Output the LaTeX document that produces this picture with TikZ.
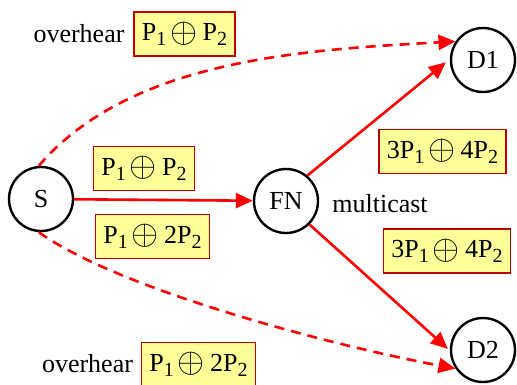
\documentclass[tikz,border=0pt]{standalone}
\usepackage{fontspec}
\setmainfont{Liberation Serif}
\usetikzlibrary{arrows.meta}
\definecolor{boxfill}{HTML}{FFFF99}
\definecolor{boxline}{HTML}{C00000}
\newcommand{\idx}[1]{\raisebox{-5pt}{\fontsize{20}{20}\selectfont #1}}
\newcommand{\xor}{\hspace{4pt}\raisebox{-1.5pt}{\scalebox{1.4}{$\oplus$}}\hspace{5pt}}
\begin{document}
\begin{tikzpicture}[x=1pt,y=-1pt,
  every node/.style={font=\fontsize{26}{30}\selectfont},
  station/.style={circle,draw=black,line width=2.4pt,minimum size=64pt,inner sep=0pt},
  pkt/.style={draw=boxline,fill=boxfill,line width=1.8pt,minimum height=44pt,inner xsep=8pt,inner ysep=0pt},
  link/.style={draw=red,line width=2.6pt,-{Triangle[length=17pt,width=15pt]}},
  hear/.style={link,dash pattern=on 10pt off 7pt}]
\useasboundingbox (0,0) rectangle (517,384);

% stations
\node[station] (S)  at (41,199)  {S};
\node[station] (FN) at (286,201) {FN};
\node[station] (D1) at (483,60)  {D1};
\node[station] (D2) at (483,350) {D2};

% coded packets
\node[pkt] (b1) at (184.5,34)  {P\idx{1}\xor P\idx{2}};
\node[pkt] (b2) at (144,168.5) {P\idx{1}\xor P\idx{2}};
\node[pkt] (b3) at (152.5,236.5) {P\idx{1}\xor 2P\idx{2}};
\node[pkt] (b4) at (442.5,151.5) {3P\idx{1}\xor 4P\idx{2}};
\node[pkt] (b5) at (447,251) {3P\idx{1}\xor 4P\idx{2}};
\node[pkt] (b6) at (198.5,364.5) {P\idx{1}\xor 2P\idx{2}};

% plain labels
\node[anchor=base] (o1) at (79,42)  {overhear};
\node[anchor=base] (o2) at (87.5,372) {overhear};
\node[anchor=base] (mc) at (380,212) {multicast};

% transmissions
\draw[link] (S) -- (FN);
\draw[link] (FN.50) -- ([xshift=-4pt]D1.184);
\draw[link] (FN.-45) -- ([xshift=-2pt]D2.178);

% overheard copies
\draw[hear] (S.94) .. controls (130,60) and (300,50) .. (D1.146);
\draw[hear] (S.-94) .. controls (120,290) and (330,345) .. (D2.214);
\end{tikzpicture}
\end{document}
